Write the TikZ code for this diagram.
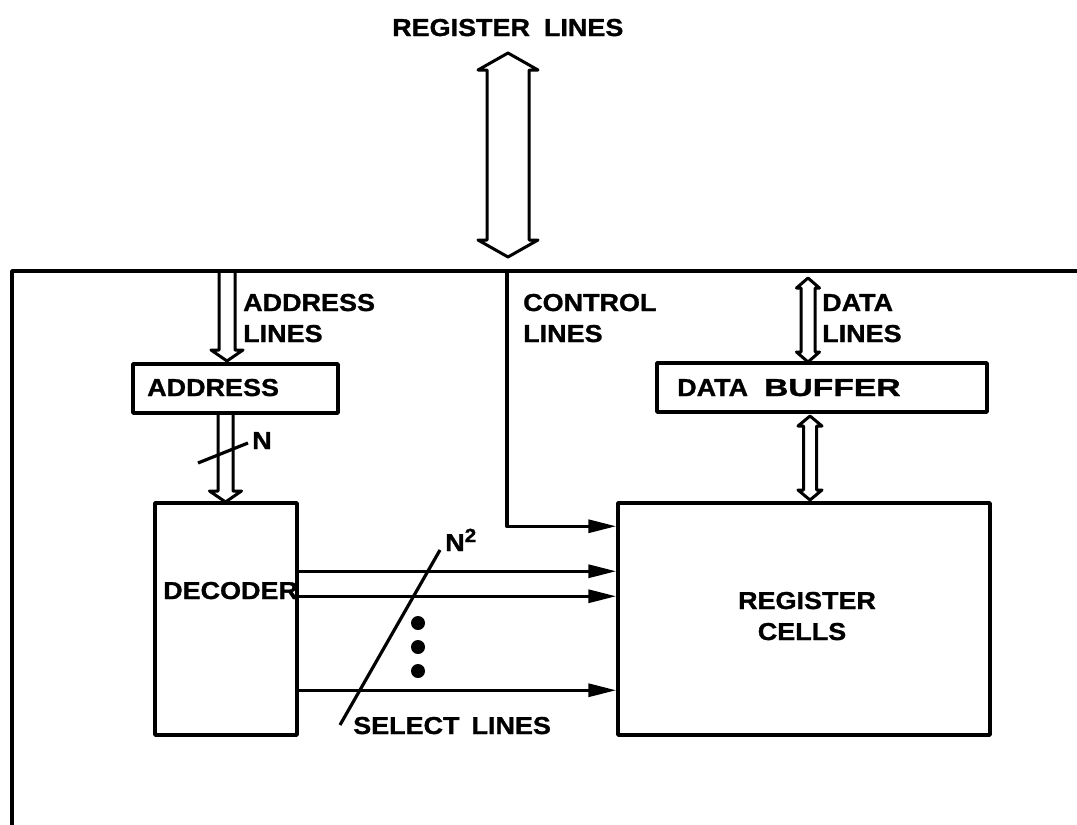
\documentclass[tikz,border=0pt]{standalone}
\usepackage{graphicx}
\usepackage{fontspec}
\setmainfont{Liberation Sans}[FakeStretch=1.1, BoldFeatures={FakeBold=1.2}]
\usetikzlibrary{arrows.meta,calc}
\newcommand\hdbl[6]{\draw[hol] (#1,#2) -- (#1-#5,#2+#6) -- (#1-#4,#2+#6) -- (#1-#4,#3-#6) -- (#1-#5,#3-#6) -- (#1,#3) -- (#1+#5,#3-#6) -- (#1+#4,#3-#6) -- (#1+#4,#2+#6) -- (#1+#5,#2+#6) -- cycle;}
\newcommand\hdown[6]{\draw[hol] (#1-#4,#2) -- (#1-#4,#3-#6) -- (#1-#5,#3-#6) -- (#1,#3) -- (#1+#5,#3-#6) -- (#1+#4,#3-#6) -- (#1+#4,#2);}
\begin{document}
\begin{tikzpicture}[x=1pt,y={(0pt,-1pt)},
  line join=round,
  lab/.style={font=\fontsize{24.5}{31}\selectfont\bfseries, inner sep=0pt, anchor=base west},
  box/.style={draw, line width=3.5pt, inner sep=0pt},
  hol/.style={line width=3pt},
  sel/.style={line width=3.3pt, -{Triangle[length=28pt,width=13pt]}},
  thin/.style={line width=3.2pt}]
\useasboundingbox (0,0) rectangle (1077,825);
% frame
\coordinate (fbl) at (12,825);
\coordinate (ftl) at (12,271);
\coordinate (ftr) at (1077,271);
\draw[line width=3.5pt] (fbl) -- (ftl) -- (ftr);
% boxes
\node[box, minimum width=205pt, minimum height=49pt] (addrbox) at (235.5,388.5) {};
\node[box, minimum width=330pt, minimum height=49pt] (databuf) at (822,387.5) {};
\node[box, minimum width=142pt, minimum height=232pt] (decbox) at (226,619) {};
\node[box, minimum width=372pt, minimum height=232pt] (regcells) at (804,619) {};
% labels
\node[lab] (title) at (392,36) {REGISTER\hspace{14pt}LINES};
\node[lab] (addrl1) at (243,311) {ADDRESS};
\node[lab] (addrl2) at (243,342) {LINES};
\node[lab] (ctrl1) at (523,311) {CONTROL};
\node[lab] (ctrl2) at (523,342) {LINES};
\node[lab] (datal1) at (822,311) {DATA};
\node[lab] (datal2) at (822,342) {LINES};
\node[lab] (addrtxt) at (147,396) {ADDRESS};
\node[lab] (buftxt) at (677,396) {DATA\hspace{16pt}\scalebox{1.25}[1]{BUFFER}};
\node[lab] (dectxt) at (163,599) {DECODER};
\node[lab, anchor=base] (regtxt1) at (807,609) {REGISTER};
\node[lab, anchor=base] (regtxt2) at (802,640) {CELLS};
\node[lab] (nlab) at (252,449) {N};
\node[lab] (n2lab) at (445,551) {N\raisebox{9pt}{\fontsize{19}{19}\selectfont 2}};
\node[lab] (sellab) at (353,734) {SELECT\hspace{12pt}LINES};
% hollow arrows
\hdbl{508}{53}{257}{21}{30}{17}
\hdown{227}{271}{361}{8}{16}{11}
\hdown{225.5}{413}{502}{7.5}{16}{11}
\hdbl{808}{278}{362}{7}{11.5}{10}
\hdbl{810}{416}{500}{6.5}{12}{10}
% N slash on address bus
\coordinate (ns1) at (198,463);
\coordinate (ns2) at (248,443);
\draw[thin] (ns1) -- (ns2);
% control line
\coordinate (ctrltop) at (507,271);
\draw[sel] (ctrltop) |- ($(regcells.north west)+(0,25)$);
% select lines
\draw[sel] ($(decbox.north east)+(0,70)$) -- ($(regcells.north west)+(0,70)$);
\draw[sel] ($(decbox.north east)+(0,95)$) -- ($(regcells.north west)+(0,95)$);
\draw[sel] ($(decbox.north east)+(0,189)$) -- ($(regcells.north west)+(0,189)$);
% dots
\foreach \yy/\nm in {623/d1,647/d2,671/d3}{\fill (418,\yy) circle (7pt) coordinate (\nm);}
% N^2 slash
\coordinate (s1) at (440,550);
\coordinate (s2) at (340,725);
\draw[thin] (s1) -- (s2);
\end{tikzpicture}
\end{document}
